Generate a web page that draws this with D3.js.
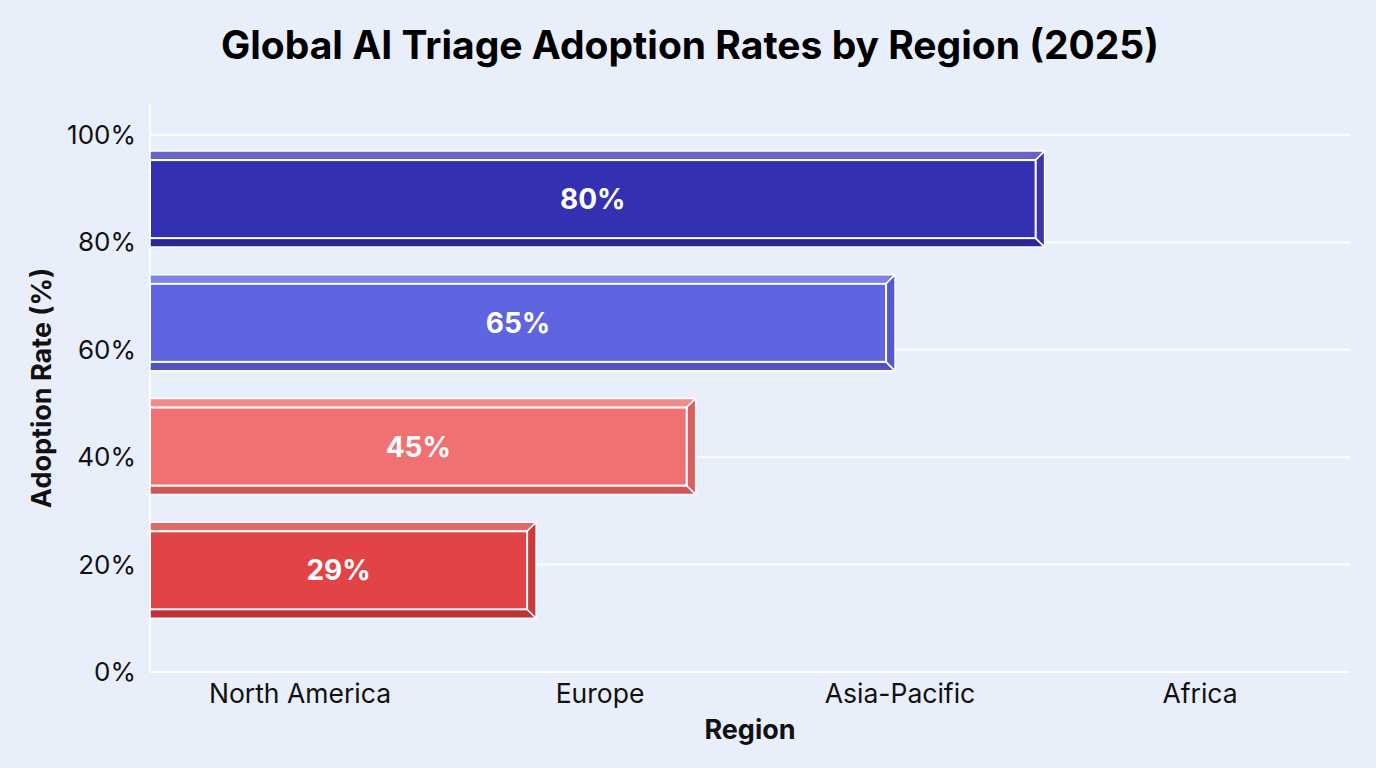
<!DOCTYPE html>
<html>
<head>
<meta charset="utf-8">
<script src="https://cdn.jsdelivr.net/npm/d3@7"></script>
<style>
  body { margin: 0; background: #e9eefb; }
  text { font-family: Inter, "Noto Sans", sans-serif; }
</style>
</head>
<body>
<div id="chart"></div>
<script>
// Chart data
var regions = ["North America", "Europe", "Asia-Pacific", "Africa"];
var adoption = [80, 65, 45, 29];
var yTicks = [0, 20, 40, 60, 80, 100];

// Bar colours: [main, top band, bottom band, right side]
var barColors = [
  ["#3430b2", "#6863c4", "#2b2893", "#3b37a6"],
  ["#5f65e0", "#7e83e8", "#4d52c4", "#5559d0"],
  ["#f07172", "#ef8d8d", "#cf5758", "#d95f60"],
  ["#e24445", "#e06a6a", "#bd3435", "#c93b3c"]
];

var w = 1376, h = 768;
var plotLeft = 150, plotRight = 1350, plotTop = 135, plotBottom = 672;

var svg = d3.select("#chart").append("svg")
  .attr("width", w).attr("height", h);

svg.append("rect").attr("width", w).attr("height", h).attr("fill", "#e9eefb");

// Scales
var y = d3.scaleLinear().domain([0, 100]).range([plotBottom, plotTop]);
var xBand = d3.scaleBand().domain(regions).range([plotLeft, plotRight]);
// length of each bar
var xVal = d3.scaleLinear().domain([0, 100]).range([plotLeft + 88, plotLeft + 1085]);
// vertical slot of each bar
var barBand = d3.scaleBand().domain(regions)
  .range([y(97), y(10)]).paddingInner(0.224).paddingOuter(0);

// Grid lines
svg.append("g").selectAll("line")
  .data(yTicks).enter().append("line")
  .attr("x1", plotLeft).attr("x2", plotRight)
  .attr("y1", function(d) { return y(d); })
  .attr("y2", function(d) { return y(d); })
  .attr("stroke", "#ffffff").attr("stroke-width", 2);

// Left axis line
svg.append("line")
  .attr("x1", plotLeft).attr("x2", plotLeft)
  .attr("y1", 104).attr("y2", plotBottom)
  .attr("stroke", "#ffffff").attr("stroke-width", 2);

// Y tick labels
svg.append("g").selectAll("text")
  .data(yTicks).enter().append("text")
  .attr("x", 136)
  .attr("y", function(d) { return y(d) + 9; })
  .attr("text-anchor", "end")
  .attr("font-size", 26)
  .attr("fill", "#111")
  .text(function(d) { return d + "%"; });

// X tick labels
svg.append("g").selectAll("text")
  .data(regions).enter().append("text")
  .attr("x", function(d) { return xBand(d) + xBand.bandwidth() / 2; })
  .attr("y", 703)
  .attr("text-anchor", "middle")
  .attr("font-size", 26.5)
  .attr("fill", "#111")
  .text(function(d) { return d; });

// Bars (bevelled)
var d = 9;
var bars = svg.append("g").selectAll("g")
  .data(regions).enter().append("g");

bars.each(function(r, i) {
  var g = d3.select(this);
  var x0 = plotLeft, x1 = xVal(adoption[i]);
  var t = barBand(r), b = barBand(r) + barBand.bandwidth();
  var c = barColors[i];

  // top band
  g.append("path")
    .attr("d", "M" + x0 + "," + t + "L" + (x1 + d) + "," + t + "L" + x1 + "," + (t + d) + "L" + x0 + "," + (t + d) + "Z")
    .attr("fill", c[1]).attr("stroke", "#ffffff").attr("stroke-width", 1.5).attr("stroke-linejoin", "round");
  // bottom band
  g.append("path")
    .attr("d", "M" + x0 + "," + (b - d) + "L" + x1 + "," + (b - d) + "L" + (x1 + d) + "," + b + "L" + x0 + "," + b + "Z")
    .attr("fill", c[2]).attr("stroke", "#ffffff").attr("stroke-width", 1.5).attr("stroke-linejoin", "round");
  // right side
  g.append("path")
    .attr("d", "M" + x1 + "," + (t + d) + "L" + (x1 + d) + "," + t + "L" + (x1 + d) + "," + b + "L" + x1 + "," + (b - d) + "Z")
    .attr("fill", c[3]).attr("stroke", "#ffffff").attr("stroke-width", 1.5).attr("stroke-linejoin", "round");
  // front face
  g.append("rect")
    .attr("x", x0).attr("y", t + d)
    .attr("width", x1 - x0).attr("height", b - t - 2 * d)
    .attr("fill", c[0]).attr("stroke", "#ffffff").attr("stroke-width", 2);
  // value label
  g.append("text")
    .attr("x", (x0 + x1) / 2)
    .attr("y", (t + b) / 2 + 10)
    .attr("text-anchor", "middle")
    .attr("font-size", 28).attr("font-weight", 700)
    .attr("fill", "#ffffff")
    .text(adoption[i] + "%");
});

// Title
svg.append("text")
  .attr("x", 690).attr("y", 59)
  .attr("text-anchor", "middle")
  .attr("font-size", 39).attr("font-weight", 700)
  .attr("fill", "#000")
  .text("Global AI Triage Adoption Rates by Region (2025)");

// Axis titles
svg.append("text")
  .attr("x", 750).attr("y", 739)
  .attr("text-anchor", "middle")
  .attr("font-size", 27).attr("font-weight", 700)
  .attr("fill", "#111")
  .text("Region");

svg.append("text")
  .attr("transform", "translate(51,388) rotate(-90)")
  .attr("text-anchor", "middle")
  .attr("font-size", 27).attr("font-weight", 700)
  .attr("fill", "#111")
  .text("Adoption Rate (%)");
</script>
</body>
</html>
